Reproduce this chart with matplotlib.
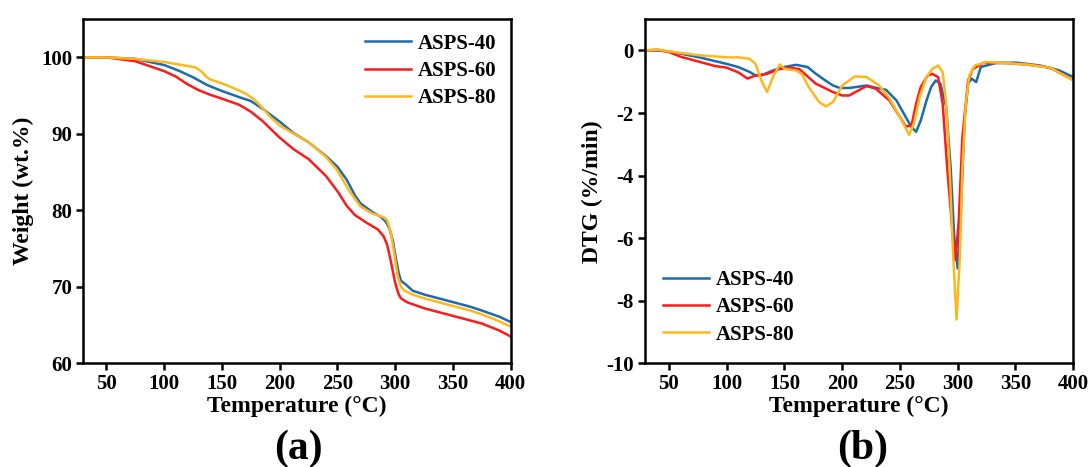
import matplotlib
matplotlib.use("Agg")
import matplotlib.pyplot as plt

# TG data, Weight (wt.%) vs Temperature
t40 = [30, 50, 75, 100, 112, 125, 137, 150, 165, 175, 185, 200, 212, 225, 240, 250, 258, 265, 270,
       280, 288, 292, 295, 298, 300, 303, 305, 310, 315, 325, 340, 350, 365, 375, 390, 400]
w40 = [100, 100, 99.8, 99.0, 98.3, 97.4, 96.4, 95.6, 94.8, 94.3, 93.3, 91.6, 90.1, 88.9, 87.1, 85.7, 84.0, 82.0, 80.9,
       79.8, 79.1, 78.5, 77.6, 76.0, 74.2, 71.8, 70.8, 70.2, 69.5, 69.0, 68.4, 68.0, 67.4, 66.9, 66.1, 65.4]
t60 = [30, 50, 75, 100, 110, 120, 130, 140, 150, 165, 175, 185, 200, 212, 225, 240, 250, 258, 265,
       275, 285, 290, 293, 296, 300, 303, 305, 310, 325, 340, 350, 365, 375, 390, 400]
w60 = [100, 100, 99.5, 98.2, 97.5, 96.5, 95.7, 95.1, 94.6, 93.8, 92.9, 91.7, 89.5, 88.0, 86.7, 84.5, 82.5, 80.6, 79.4,
       78.4, 77.5, 76.6, 75.5, 73.5, 70.5, 69.0, 68.5, 68.0, 67.2, 66.6, 66.2, 65.6, 65.2, 64.3, 63.5]
t80 = [30, 50, 75, 100, 115, 127, 132, 137, 140, 150, 160, 170, 178, 185, 192, 200, 210, 225, 240, 250, 260,
       270, 280, 290, 293, 296, 299, 302, 305, 308, 315, 325, 340, 350, 365, 375, 390, 400]
w80 = [100, 100, 99.8, 99.4, 99.0, 98.7, 98.2, 97.4, 97.1, 96.6, 96.0, 95.3, 94.5, 93.4, 92.2, 91.1, 90.2, 88.9, 87.0, 85.2, 82.6,
       80.5, 79.6, 79.1, 78.7, 77.2, 74.5, 71.5, 70.0, 69.5, 69.0, 68.5, 67.9, 67.5, 66.9, 66.4, 65.5, 64.8]

# DTG data (%/min)
d40_t = [30, 40, 50, 75, 100, 110, 120, 125, 130, 140, 150, 160, 170, 177, 185, 192, 198, 206, 214, 221, 230, 238,
         247, 255, 260, 264, 268, 273, 277, 281, 285, 290, 294, 297, 300, 303, 306, 309, 312, 316, 320, 333, 351,
         371, 388, 400]
d40_v = [0.0, 0.0, -0.03, -0.21, -0.43, -0.53, -0.69, -0.80, -0.80, -0.64, -0.53, -0.46, -0.53, -0.74, -0.95, -1.12,
         -1.20, -1.20, -1.16, -1.12, -1.20, -1.26, -1.60, -2.13, -2.45, -2.60, -2.24, -1.60, -1.17, -0.96, -1.06, -1.80,
         -3.80, -5.96, -6.97, -4.90, -2.20, -1.06, -0.90, -1.01, -0.53, -0.40, -0.39, -0.48, -0.64, -0.85]
d60_t = [30, 40, 50, 60, 75, 90, 100, 110, 118, 125, 135, 145, 155, 163, 177, 192, 200, 206, 213, 221, 229, 241,
         250, 255, 260, 264, 268, 274, 278, 283, 287, 291, 296, 298, 301, 304, 309, 313, 322, 340, 360, 380, 400]
d60_v = [0.0, 0.02, -0.05, -0.20, -0.35, -0.50, -0.55, -0.70, -0.90, -0.80, -0.75, -0.60, -0.55, -0.60, -1.06, -1.33,
         -1.44, -1.44, -1.30, -1.14, -1.22, -1.60, -2.13, -2.43, -2.40, -1.70, -1.17, -0.80, -0.75, -0.85, -1.70, -3.80,
         -6.00, -6.70, -5.40, -2.80, -0.96, -0.60, -0.40, -0.40, -0.45, -0.55, -0.95]
d80_t = [30, 40, 50, 75, 100, 110, 120, 125, 130, 135, 140, 146, 150, 160, 165, 171, 180, 186, 192, 200, 211, 221,
         232, 241, 250, 258, 262, 267, 273, 278, 283, 287, 290, 293, 296, 299, 302, 304, 307, 310, 315, 325, 340,
         360, 380, 400]
d80_v = [0.0, 0.03, -0.03, -0.15, -0.22, -0.22, -0.27, -0.43, -0.96, -1.33, -0.85, -0.45, -0.59, -0.64, -0.75, -1.17,
         -1.65, -1.79, -1.65, -1.12, -0.83, -0.85, -1.12, -1.54, -2.13, -2.70, -2.34, -1.49, -0.85, -0.59, -0.48, -0.69,
         -1.70, -3.80, -6.50, -8.60, -6.50, -3.80, -1.70, -0.80, -0.48, -0.37, -0.40, -0.45, -0.55, -0.95]

labels = ["ASPS-40", "ASPS-60", "ASPS-80"]
colors = ["#1a6bb0", "#ff1a1a", "#ffb81c"]

plt.rcParams["font.family"] = ["Liberation Serif", "DejaVu Serif"]
plt.rcParams["font.weight"] = "bold"
plt.rcParams["axes.unicode_minus"] = False

fig = plt.figure(figsize=(10.89, 4.67), dpi=100)
ax1 = fig.add_axes([0.0765, 0.222, 0.3925, 0.737])
ax2 = fig.add_axes([0.592, 0.222, 0.3935, 0.737])

for t, w, lab, c in zip([t40, t60, t80], [w40, w60, w80], labels, colors):
    ax1.plot(t, w, color=c, lw=1.8, label=lab)
for t, v, lab, c in zip([d40_t, d60_t, d80_t], [d40_v, d60_v, d80_v], labels, colors):
    ax2.plot(t, v, color=c, lw=1.8, label=lab)

ax1.set_xlim(30, 400)
ax1.set_ylim(60, 105)
ax1.set_xticks([50, 100, 150, 200, 250, 300, 350, 400])
ax1.set_yticks([60, 70, 80, 90, 100])
ax2.set_xlim(29, 400)
ax2.set_ylim(-10, 1)
ax2.set_xticks([50, 100, 150, 200, 250, 300, 350, 400])
ax2.set_yticks([-10, -8, -6, -4, -2, 0])

for ax in (ax1, ax2):
    for s in ax.spines.values():
        s.set_linewidth(1.8)
    ax.tick_params(direction="out", length=5, width=1.8, labelsize=15, pad=3)
    for lb in ax.get_xticklabels() + ax.get_yticklabels():
        lb.set_fontweight("bold")
    ax.set_xlabel("Temperature (°C)", fontsize=17, fontweight="bold", labelpad=1)

ax1.set_ylabel("Weight (wt.%)", fontsize=17, fontweight="bold", labelpad=5)
ax2.set_ylabel("DTG (%/min)", fontsize=17, fontweight="bold", labelpad=2)

ax1.legend(loc="upper right", frameon=False, prop={"size": 15, "weight": "bold"},
           handlelength=2.2, handletextpad=0.3, labelspacing=0.35, borderaxespad=0.3)
ax2.legend(loc="lower left", frameon=False, prop={"size": 15, "weight": "bold"},
           handlelength=2.2, handletextpad=0.3, labelspacing=0.35, borderaxespad=0.5)

fig.text(0.274, 0.04, "(a)", fontsize=30, fontweight="bold", ha="center", va="center")
fig.text(0.792, 0.04, "(b)", fontsize=30, fontweight="bold", ha="center", va="center")

fig.savefig("out.png", dpi=100)
